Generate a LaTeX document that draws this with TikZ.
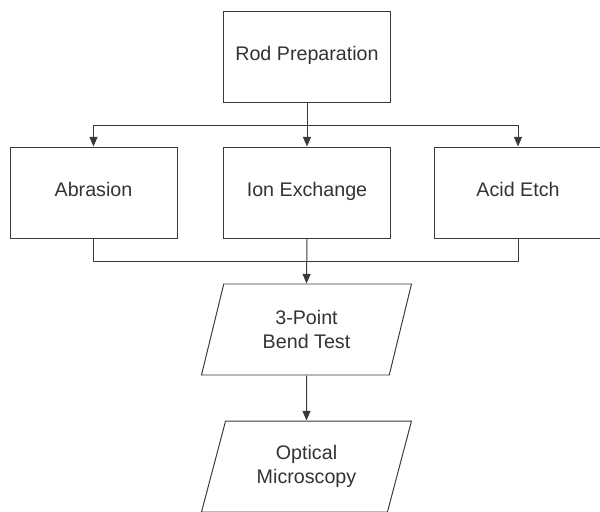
\documentclass[tikz,border=0pt]{standalone}
\usepackage{fontspec}
\setmainfont{Liberation Sans}
\usepackage{tikz}
\usepackage{xcolor}
\usetikzlibrary{shapes.geometric,arrows.meta}
\definecolor{linegray}{HTML}{3A3A3A}
\begin{document}
\begin{tikzpicture}[font=\fontsize{14}{17}\selectfont]
	\tikzstyle{stage} = [draw=linegray, line width=0.7pt, rectangle, minimum width=4.175cm, minimum height=2.275cm, text height=0.75em, text depth=0.22em, text=black!80, align=center]
	\tikzstyle{test} = [draw=linegray, line width=0.7pt, trapezium, trapezium left angle=65, trapezium right angle=115, trapezium stretches body, minimum width=5.25cm, minimum height=2.275cm, text=black!80, align=center]
	\tikzstyle{edge} = [draw=linegray, line width=0.7pt]
	\tikzstyle{arrow} = [edge, -{Triangle[length=0.24cm, width=0.2cm]}]
	\useasboundingbox (0,0) rectangle (15,-12.775);
		\node[stage] (rod)  at (7.675,-1.4125) {Rod Preparation};
		\node[stage] (abr)  at (2.3375,-4.8125) {Abrasion};
		\node[stage] (ion)  at (7.675,-4.8125) {Ion Exchange};
		\node[stage] (acid) at (12.95,-4.8125) {Acid Etch};
		\node[test]  (bend) at (7.6625,-8.2375) {3-Point\\Bend Test};
		\node[test]  (opt)  at (7.6625,-11.6625) {Optical\\Microscopy};
		\coordinate (split) at (7.675,-3.125);
		\coordinate (join)  at (7.675,-6.525);
	% split to the three treatments
	\draw[edge] (rod.south) -- (split);
	\draw[arrow] (split) -| (abr.north);
	\draw[arrow] (split) -- (ion.north);
	\draw[arrow] (split) -| (acid.north);
	% join into the test
	\draw[edge] (abr.south) |- (join);
	\draw[edge] (acid.south) |- (join);
	\draw[arrow] (ion.south) -- (bend.north);
	\draw[arrow] (bend.south) -- (opt.north);
\end{tikzpicture}
\end{document}
